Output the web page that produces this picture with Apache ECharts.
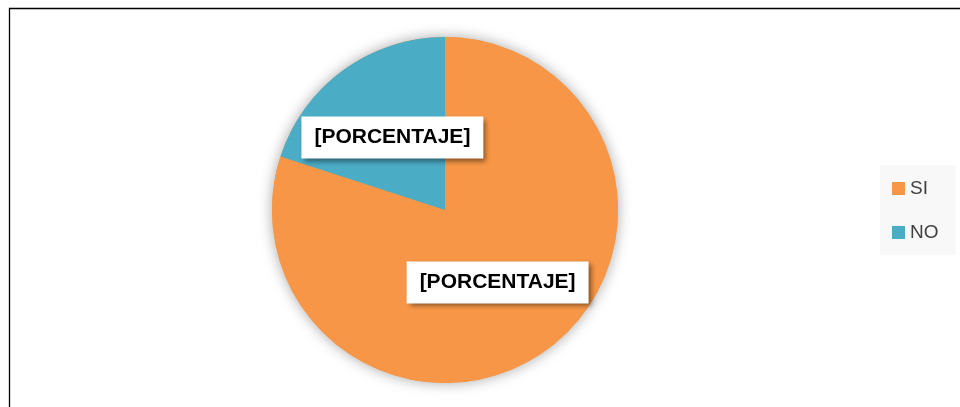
<!DOCTYPE html>
<html>
<head>
<meta charset="utf-8">
<script src="https://cdn.jsdelivr.net/npm/echarts@6/dist/echarts.min.js"></script>
<style>
html,body{margin:0;padding:0;background:#fff;}
#c{width:960px;height:407px;}
</style>
</head>
<body>
<div id="c"></div>
<script>
var categories = ['SI', 'NO'];
var values = [80, 20];
var labelText = '[PORCENTAJE]';
var colors = ['#F79646', '#4BACC6'];

var chart = echarts.init(document.getElementById('c'), null, {renderer: 'canvas'});
var data = categories.map(function (c, i) {
  return {name: c, value: values[i], itemStyle: {color: colors[i]}};
});
chart.setOption({
  animation: false,
  backgroundColor: '#fff',
  legend: {
    data: categories,
    orient: 'vertical',
    left: 880,
    top: 165,
    backgroundColor: '#f8f8f8',
    padding: [14, 17, 13, 12],
    itemGap: 25,
    itemWidth: 13,
    itemHeight: 13,
    icon: 'rect',
    textStyle: {fontFamily: 'Liberation Sans', fontSize: 19, color: '#404040'}
  },
  graphic: [{
    type: 'rect',
    silent: true,
    shape: {x: 9.5, y: 8.5, width: 1000, height: 1000},
    style: {fill: 'none', stroke: '#000', lineWidth: 1.3},
    z: 100
  }],
  series: [{
    type: 'pie',
    name: 'shadow',
    silent: true,
    center: [445, 210],
    radius: 173,
    z: 1,
    label: {show: false},
    labelLine: {show: false},
    data: [{name: '_bg', value: 1, itemStyle: {color: '#F79646', shadowBlur: 14, shadowColor: 'rgba(0,0,0,0.35)'}}]
  }, {
    type: 'pie',
    name: 'Respuesta',
    center: [445, 210],
    radius: 173,
    startAngle: 90,
    clockwise: true,
    z: 2,
    itemStyle: {borderWidth: 0},
    label: {
      show: true,
      position: 'inside',
      formatter: function () { return labelText; },
      fontFamily: 'Liberation Sans',
      fontWeight: 'bold',
      fontSize: 21,
      lineHeight: 22,
      color: '#000',
      backgroundColor: '#fff',
      padding: [10, 13, 10, 13],
      shadowColor: 'rgba(0,0,0,0.45)',
      shadowBlur: 5,
      shadowOffsetX: 3,
      shadowOffsetY: 3
    },
    labelLine: {show: false},
    emphasis: {disabled: true},
    data: data
  }]
});
</script>
</body>
</html>
